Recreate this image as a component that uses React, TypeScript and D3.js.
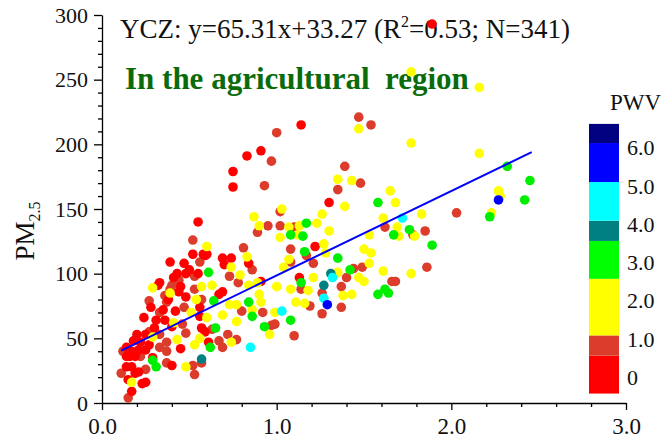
import React, { useLayoutEffect, useRef } from 'react';
import * as d3 from 'd3';

type Pt = [number, number];

// PWV < 0.5
const redPoints: Pt[] = [
  [1.89, 293], [1.30, 155], [1.14, 215], [1.22, 121], [1.13, 97],
  [0.91, 195], [0.83, 191], [0.75, 179], [0.75, 167], [0.60, 115], [0.69, 112], [0.70, 107], [0.84, 108],
  [0.91, 94], [0.69, 86], [0.67, 84], [0.59, 55], [0.61, 47], [0.74, 112],
  [0.55, 140], [0.58, 115], [0.59, 114], [0.39, 109], [0.50, 103], [0.55, 100], [0.48, 100], [0.41, 97],
  [0.33, 93], [0.45, 90], [0.32, 91], [0.48, 82], [0.42, 71], [0.56, 74], [0.24, 66], [0.36, 64],
  [0.31, 64], [0.56, 67], [0.57, 58], [0.40, 59], [0.25, 53], [0.20, 53], [0.45, 42], [0.14, 43],
  [0.17, 40], [0.21, 41], [0.25, 41], [0.16, 36], [0.19, 36], [0.29, 35], [0.40, 29], [0.14, 36],
  [0.14, 28], [0.17, 28], [0.19, 23], [0.21, 24], [0.25, 16], [0.23, 15], [0.15, 18], [0.17, 9],
  [0.44, 86], [0.22, 47], [0.27, 45], [0.18, 48], [0.30, 58], [0.35, 72], [0.38, 80], [0.28, 74],
  [0.43, 100], [0.47, 108], [0.52, 115],
];

// PWV 0.5 - 1.0
const brickPoints: Pt[] = [
  [2.03, 147], [1.78, 130], [1.85, 133], [1.86, 105], [1.68, 94], [1.47, 221], [1.54, 215],
  [1.39, 183], [1.48, 170], [1.35, 165], [1.62, 136], [1.17, 114], [1.21, 108], [1.49, 105],
  [1.40, 97], [1.66, 94], [1.37, 90], [1.14, 88], [1.26, 85], [1.19, 75], [1.37, 74], [1.26, 69],
  [1.44, 104], [1.00, 209], [0.97, 187], [0.93, 168], [1.02, 148], [0.95, 137], [1.02, 137],
  [0.89, 132], [0.81, 120], [1.08, 119], [1.08, 109], [0.86, 103], [1.10, 136],
  [0.73, 98], [0.78, 93], [0.80, 71], [0.92, 70], [0.99, 61], [0.97, 60], [1.10, 52], [0.63, 57],
  [0.72, 53], [0.67, 48], [0.77, 49], [0.69, 43],
  [0.52, 126], [0.56, 109], [0.53, 98], [0.44, 95], [0.39, 88], [0.36, 83], [0.27, 79], [0.37, 78],
  [0.47, 74], [0.53, 88], [0.57, 80], [0.33, 70], [0.46, 61], [0.48, 54], [0.27, 55], [0.33, 53],
  [0.37, 47], [0.12, 40], [0.22, 36], [0.33, 43], [0.37, 40], [0.37, 31], [0.52, 29], [0.57, 31],
  [0.53, 22], [0.11, 23], [0.25, 26], [0.15, 4], [0.40, 91],
];

// PWV 1.0 - 2.5
const yellowPoints: Pt[] = [
  [1.77, 256], [2.16, 244], [1.77, 201], [2.16, 193], [2.27, 164], [2.28, 160], [2.23, 147],
  [1.83, 146], [1.68, 155], [1.69, 136], [1.70, 129], [1.79, 129], [1.77, 100], [1.47, 212],
  [1.35, 173], [1.43, 172], [1.65, 164], [1.39, 152], [1.61, 143],
  [1.26, 146], [1.23, 139], [1.13, 137], [1.30, 133], [1.53, 130], [1.27, 123], [1.28, 116],
  [1.50, 119], [1.54, 116], [1.53, 108], [1.61, 102], [1.35, 101], [1.21, 97], [1.47, 97],
  [1.50, 94], [1.18, 87], [1.38, 83], [1.43, 84], [1.16, 77],
  [1.03, 150], [0.87, 144], [0.90, 137], [1.07, 136], [1.12, 130], [1.02, 128], [0.60, 121],
  [0.83, 113], [1.07, 111], [0.74, 105], [1.04, 105],
  [0.79, 99], [0.84, 91], [0.89, 93], [1.00, 90], [1.08, 88], [0.63, 91], [0.73, 76], [0.77, 76],
  [0.90, 84], [0.91, 78], [1.11, 78], [0.86, 72], [0.69, 68], [0.99, 70], [0.60, 66], [0.77, 63],
  [0.96, 53], [0.74, 47],
  [0.29, 89], [0.54, 80], [0.41, 62], [0.51, 70], [0.29, 51], [0.43, 49], [0.53, 45], [0.56, 50],
  [0.48, 28], [0.17, 16], [0.39, 85], [0.57, 90],
];

// PWV 2.5 - 3.5
const greenPoints: Pt[] = [
  [2.32, 183], [2.45, 172], [2.42, 157], [2.22, 144], [1.76, 134], [1.89, 122], [1.58, 155],
  [1.67, 130], [1.17, 139], [1.15, 129], [1.16, 117], [1.35, 112], [1.42, 103], [1.14, 93],
  [1.58, 84], [1.62, 88], [1.64, 85], [1.08, 130],
  [0.61, 101], [0.64, 79], [0.84, 78], [0.86, 67], [1.08, 64], [0.93, 59], [0.65, 58], [0.62, 43],
  [0.31, 28], [0.29, 33],
];

const tealPoints: Pt[] = [[1.31, 100], [1.27, 91], [0.57, 34]];
const cyanPoints: Pt[] = [[1.32, 97], [1.27, 81], [1.72, 143], [1.03, 71], [0.85, 43]];
const bluePoints: Pt[] = [[1.29, 76], [2.27, 157]];

// fit: y = 65.31x + 33.27
const slope = 65.31;
const intercept = 33.27;
const fitRange = [0.11, 2.46];

const xTicks = [0, 1, 2, 3];
const yTicks = [0, 50, 100, 150, 200, 250, 300];

// colour bar
const legendLabels = ['0', '1.0', '2.0', '3.0', '4.0', '5.0', '6.0'];
const legendEdges = [-0.42, 0.57, 1.1, 2.58, 3.57, 4.1, 5.11, 6.13, 6.63];
const legendColors = ['#ff0000', '#dc3c2c', '#ffff00', '#00ff00', '#008080', '#00ffff', '#0000ff', '#000080'];

const serif = '"Liberation Serif", "Times New Roman", serif';

const drawChart = (el: SVGSVGElement) => {
  const svg = d3.select(el);
  svg.selectAll('*').remove();

  const x = d3.scaleLinear().domain([0, 3]).range([102, 626]);
  const y = d3.scaleLinear().domain([0, 300]).range([403, 15]);

  // axes
  const yAxis = svg.append('g').attr('transform', 'translate(102,0)');
  yAxis
    .call(
      d3.axisLeft(y).tickValues(yTicks).tickSize(8).tickPadding(6).tickSizeOuter(0)
        .tickFormat((d) => String(d)),
    );
  yAxis
    .append('g')
    .call(d3.axisLeft(y).tickValues(d3.range(0, 301, 10).filter((v) => v % 50 !== 0)).tickSize(4).tickFormat(() => ''))
    .select('.domain').remove();

  const xAxis = svg.append('g').attr('transform', 'translate(0,403)');
  xAxis.call(
    d3.axisBottom(x).tickValues(xTicks).tickSize(7).tickPadding(8).tickSizeOuter(0)
      .tickFormat(d3.format('.1f')),
  );
  xAxis
    .append('g')
    .call(d3.axisBottom(x).tickValues(d3.range(0, 15).map((i) => i * 0.2).filter((_, i) => i % 5 !== 0)).tickSize(4).tickFormat(() => ''))
    .select('.domain').remove();

  svg.selectAll('.domain, .tick line').attr('stroke', '#000').attr('stroke-width', 1.3);
  yAxis.selectAll('text').attr('font-family', serif).attr('font-size', 22).attr('fill', '#111');
  xAxis.selectAll('text').attr('font-family', serif).attr('font-size', 23).attr('fill', '#111');

  // y label
  const yl = svg
    .append('text')
    .attr('transform', 'translate(34,231) rotate(-90)')
    .attr('text-anchor', 'middle')
    .attr('font-family', serif)
    .attr('font-size', 27)
    .attr('fill', '#111');
  yl.append('tspan').text('PM');
  yl.append('tspan').attr('font-size', 16).attr('dy', 6).text('2.5');

  // header texts
  const t = svg
    .append('text')
    .attr('x', 120)
    .attr('y', 38)
    .attr('font-family', serif)
    .attr('font-size', 27)
    .attr('fill', '#111');
  t.append('tspan').text('YCZ: y=65.31x+33.27 (R');
  t.append('tspan').attr('font-size', 16).attr('dy', -11).text('2');
  t.append('tspan').attr('dy', 11).text('=0.53; N=341)');

  svg
    .append('text')
    .attr('x', 125)
    .attr('y', 89)
    .attr('font-family', serif)
    .attr('font-weight', 'bold')
    .attr('font-size', 31)
    .attr('fill', '#0a6b0a')
    .style('white-space', 'pre')
    .text('In the agricultural  region');

  // points
  const groups: { pts: Pt[]; color: string }[] = [
    { pts: brickPoints, color: '#dc3c2c' },
    { pts: redPoints, color: '#ff0000' },
    { pts: yellowPoints, color: '#ffff00' },
    { pts: greenPoints, color: '#00ee00' },
    { pts: tealPoints, color: '#008080' },
    { pts: cyanPoints, color: '#00ffff' },
    { pts: bluePoints, color: '#0000ff' },
  ];
  groups.forEach((g) => {
    svg
      .append('g')
      .selectAll('circle')
      .data(g.pts)
      .enter()
      .append('circle')
      .attr('cx', (d) => x(d[0]))
      .attr('cy', (d) => y(d[1]))
      .attr('r', 4.8)
      .attr('fill', g.color);
  });

  // fit line
  svg
    .append('line')
    .attr('x1', x(fitRange[0]))
    .attr('y1', y(slope * fitRange[0] + intercept))
    .attr('x2', x(fitRange[1]))
    .attr('y2', y(slope * fitRange[1] + intercept))
    .attr('stroke', '#0000ff')
    .attr('stroke-width', 2);

  // colour bar legend
  const ly = d3.scaleLinear().domain([0, 6]).range([377.5, 148]);
  const lg = svg.append('g');
  lg.selectAll('rect')
    .data(legendColors)
    .enter()
    .append('rect')
    .attr('x', 589)
    .attr('width', 30)
    .attr('y', (_, i) => ly(legendEdges[i + 1]))
    .attr('height', (_, i) => ly(legendEdges[i]) - ly(legendEdges[i + 1]))
    .attr('fill', (d) => d);
  lg.selectAll('text.lab')
    .data(legendLabels)
    .enter()
    .append('text')
    .attr('class', 'lab')
    .attr('x', 627)
    .attr('y', (_, i) => ly(i))
    .attr('dy', '0.33em')
    .attr('font-family', serif)
    .attr('font-size', 22)
    .attr('fill', '#111')
    .text((d) => d);
  lg.append('text')
    .attr('x', 610)
    .attr('y', 110)
    .attr('font-family', serif)
    .attr('font-size', 23)
    .attr('fill', '#111')
    .text('PWV');
};

export default function App() {
  const ref = useRef<SVGSVGElement>(null);

  useLayoutEffect(() => {
    if (ref.current) drawChart(ref.current);
  }, []);

  return (
    <svg
      ref={ref}
      width={661}
      height={438}
      style={{ position: 'absolute', left: 0, top: 0, background: '#fff' }}
    />
  );
}
